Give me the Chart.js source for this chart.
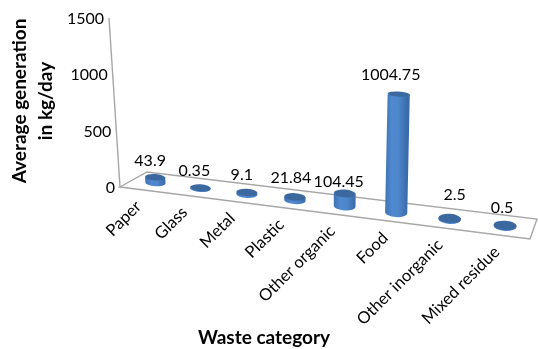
<!DOCTYPE html>
<html>
<head>
<meta charset="utf-8">
<script src="https://cdn.jsdelivr.net/npm/chart.js@4"></script>
<style>
    html, body { margin: 0; padding: 0; background: #fff; }
    canvas { display: block; }
</style>
</head>
<body>
<canvas id="wasteChart" width="538" height="349"></canvas>
<script>
    const categories = ["Paper", "Glass", "Metal", "Plastic", "Other organic", "Food", "Other inorganic", "Mixed residue"];
    const generation = [43.9, 0.35, 9.1, 21.84, 104.45, 1004.75, 2.5, 0.5];
    const yTicks = [0, 500, 1000, 1500];
    const yTitle = ["Average generation", "in kg/day"];
    const xTitle = "Waste category";

    const FONT = "Lato, sans-serif";

    // corners of the floor panel
    const frontL = [120, 187], frontR = [530, 239], backL = [147, 172], backR = [537, 219];
    const PERSPECTIVE = 0.15;

    function warp(u) {
        return u / (1 + PERSPECTIVE - PERSPECTIVE * u);
    }

    // u runs along the category axis, v goes from front edge (0) to back edge (1)
    function floorPoint(u, v) {
        const t = warp(u);
        const fx = frontL[0] + (frontR[0] - frontL[0]) * t;
        const fy = frontL[1] + (frontR[1] - frontL[1]) * t;
        const bx = backL[0] + (backR[0] - backL[0]) * t;
        const by = backL[1] + (backR[1] - backL[1]) * t;
        return [fx + (bx - fx) * v, fy + (by - fy) * v];
    }

    // verticals lean away from the middle of the floor as they rise
    function lean(x, h) {
        return (x - 328) * 0.000313 * h;
    }

    // the near end of the floor is closer to the viewer, so heights grow along it
    function barHeight(zero, bar, u) {
        return (zero - bar.y) * (1 + 0.06 * u);
    }

    function drawCylinder(ctx, x, y, h, u) {
        const rx = 10 + 1.6 * u;
        const ry = 3.1 + 1.7 * u;
        const tilt = 0.06;
        const topX = x + lean(x, h);
        const topY = y - h;
        const topRy = ry * Math.max(0.6, 1 - h / 260);

        const grad = ctx.createLinearGradient(x - rx, 0, x + rx, 0);
        grad.addColorStop(0, "#3f73b3");
        grad.addColorStop(0.3, "#5089d0");
        grad.addColorStop(0.6, "#4e86cb");
        grad.addColorStop(1, "#3a6ba9");

        ctx.fillStyle = grad;
        ctx.beginPath();
        ctx.ellipse(x, y + 0.8, rx, ry, tilt, 0, Math.PI);
        ctx.lineTo(topX - rx, topY);
        ctx.lineTo(topX + rx, topY);
        ctx.closePath();
        ctx.fill();

        ctx.fillStyle = "#3b699f";
        ctx.beginPath();
        ctx.ellipse(topX, topY, rx, topRy, tilt, 0, Math.PI * 2);
        ctx.fill();
    }

    const floorPanel = {
        id: "floorPanel",
        beforeDatasetsDraw(chart) {
            const ctx = chart.ctx;
            const y = chart.scales.y;
            ctx.save();
            ctx.fillStyle = "#fff";
            ctx.strokeStyle = "#a6a6a6";
            ctx.lineWidth = 1.4;
            ctx.beginPath();
            ctx.moveTo(frontL[0], frontL[1]);
            ctx.lineTo(frontR[0], frontR[1]);
            ctx.lineTo(backR[0], backR[1]);
            ctx.lineTo(backL[0], backL[1]);
            ctx.closePath();
            ctx.fill();
            ctx.stroke();

            // value axis
            const h = y.getPixelForValue(0) - y.getPixelForValue(1500);
            ctx.beginPath();
            ctx.moveTo(frontL[0], frontL[1]);
            ctx.lineTo(frontL[0] + lean(frontL[0], h), frontL[1] - h);
            ctx.stroke();
            ctx.restore();
        }
    };

    const cylinders = {
        id: "cylinders",
        afterDatasetsDraw(chart) {
            const ctx = chart.ctx;
            const area = chart.chartArea;
            const meta = chart.getDatasetMeta(0);
            const zero = chart.scales.y.getPixelForValue(0);

            ctx.save();
            meta.data.forEach(function(bar, i) {
                const u = (bar.x - area.left) / (area.right - area.left);
                const p = floorPoint(u, 0.5);
                drawCylinder(ctx, p[0], p[1], barHeight(zero, bar, u), u);
            });

            ctx.fillStyle = "#000";
            ctx.textBaseline = "middle";
            ctx.font = "16px " + FONT;

            // value labels above each cylinder
            ctx.textAlign = "center";
            meta.data.forEach(function(bar, i) {
                const u = (bar.x - area.left) / (area.right - area.left);
                const p = floorPoint(u, 0.5);
                const h = barHeight(zero, bar, u);
                ctx.fillText(String(generation[i]), p[0] + lean(p[0], h) + labelShift[i][0], p[1] - h + labelShift[i][1]);
            });

            // value axis ticks follow the slanted line
            ctx.textAlign = "right";
            chart.scales.y.ticks.forEach(function(tick) {
                const py = chart.scales.y.getPixelForValue(tick.value);
                ctx.fillText(String(tick.value), frontL[0] + lean(frontL[0], zero - py) - 5, py + 1);
            });

            // category names, rotated under the front edge
            ctx.font = "16.5px " + FONT;
            categories.forEach(function(name, i) {
                const u = (meta.data[i].x - area.left) / (area.right - area.left);
                const p = floorPoint(u, 0);
                ctx.save();
                ctx.translate(p[0] - 4, p[1] + 14);
                ctx.rotate(-Math.PI / 4);
                ctx.textAlign = "right";
                ctx.fillText(name, 0, 0);
                ctx.restore();
            });

            ctx.font = "bold 19px " + FONT;
            ctx.textAlign = "center";
            ctx.fillText(xTitle, 264, 338);

            ctx.save();
            ctx.translate(20, 101);
            ctx.rotate(-Math.PI / 2);
            ctx.fillText(yTitle[0], 0, 0);
            ctx.fillText(yTitle[1], 0, 26);
            ctx.restore();

            ctx.restore();
        }
    };

    // small per-label adjustments so text clears the neighbouring marks
    const labelShift = [[-5, -16], [-6, -17], [-5, -18], [-4, -19], [-6, -12], [-8, -19], [5, -23], [-3, -18]];

    new Chart(document.getElementById("wasteChart"), {
        type: "bar",
        data: {
            labels: categories,
            datasets: [{ label: "Average generation", data: generation, backgroundColor: "transparent", borderWidth: 0 }]
        },
        options: {
            responsive: false,
            animation: false,
            layout: { padding: { left: 120, right: 8, top: 18, bottom: 162 } },
            plugins: { legend: { display: false }, tooltip: { enabled: false } },
            scales: {
                x: { display: false },
                y: {
                    display: false,
                    min: 0,
                    max: 1500,
                    afterBuildTicks(scale) {
                        scale.ticks = yTicks.map(function(v) { return { value: v }; });
                    }
                }
            }
        },
        plugins: [floorPanel, cylinders]
    });
</script>
</body>
</html>
